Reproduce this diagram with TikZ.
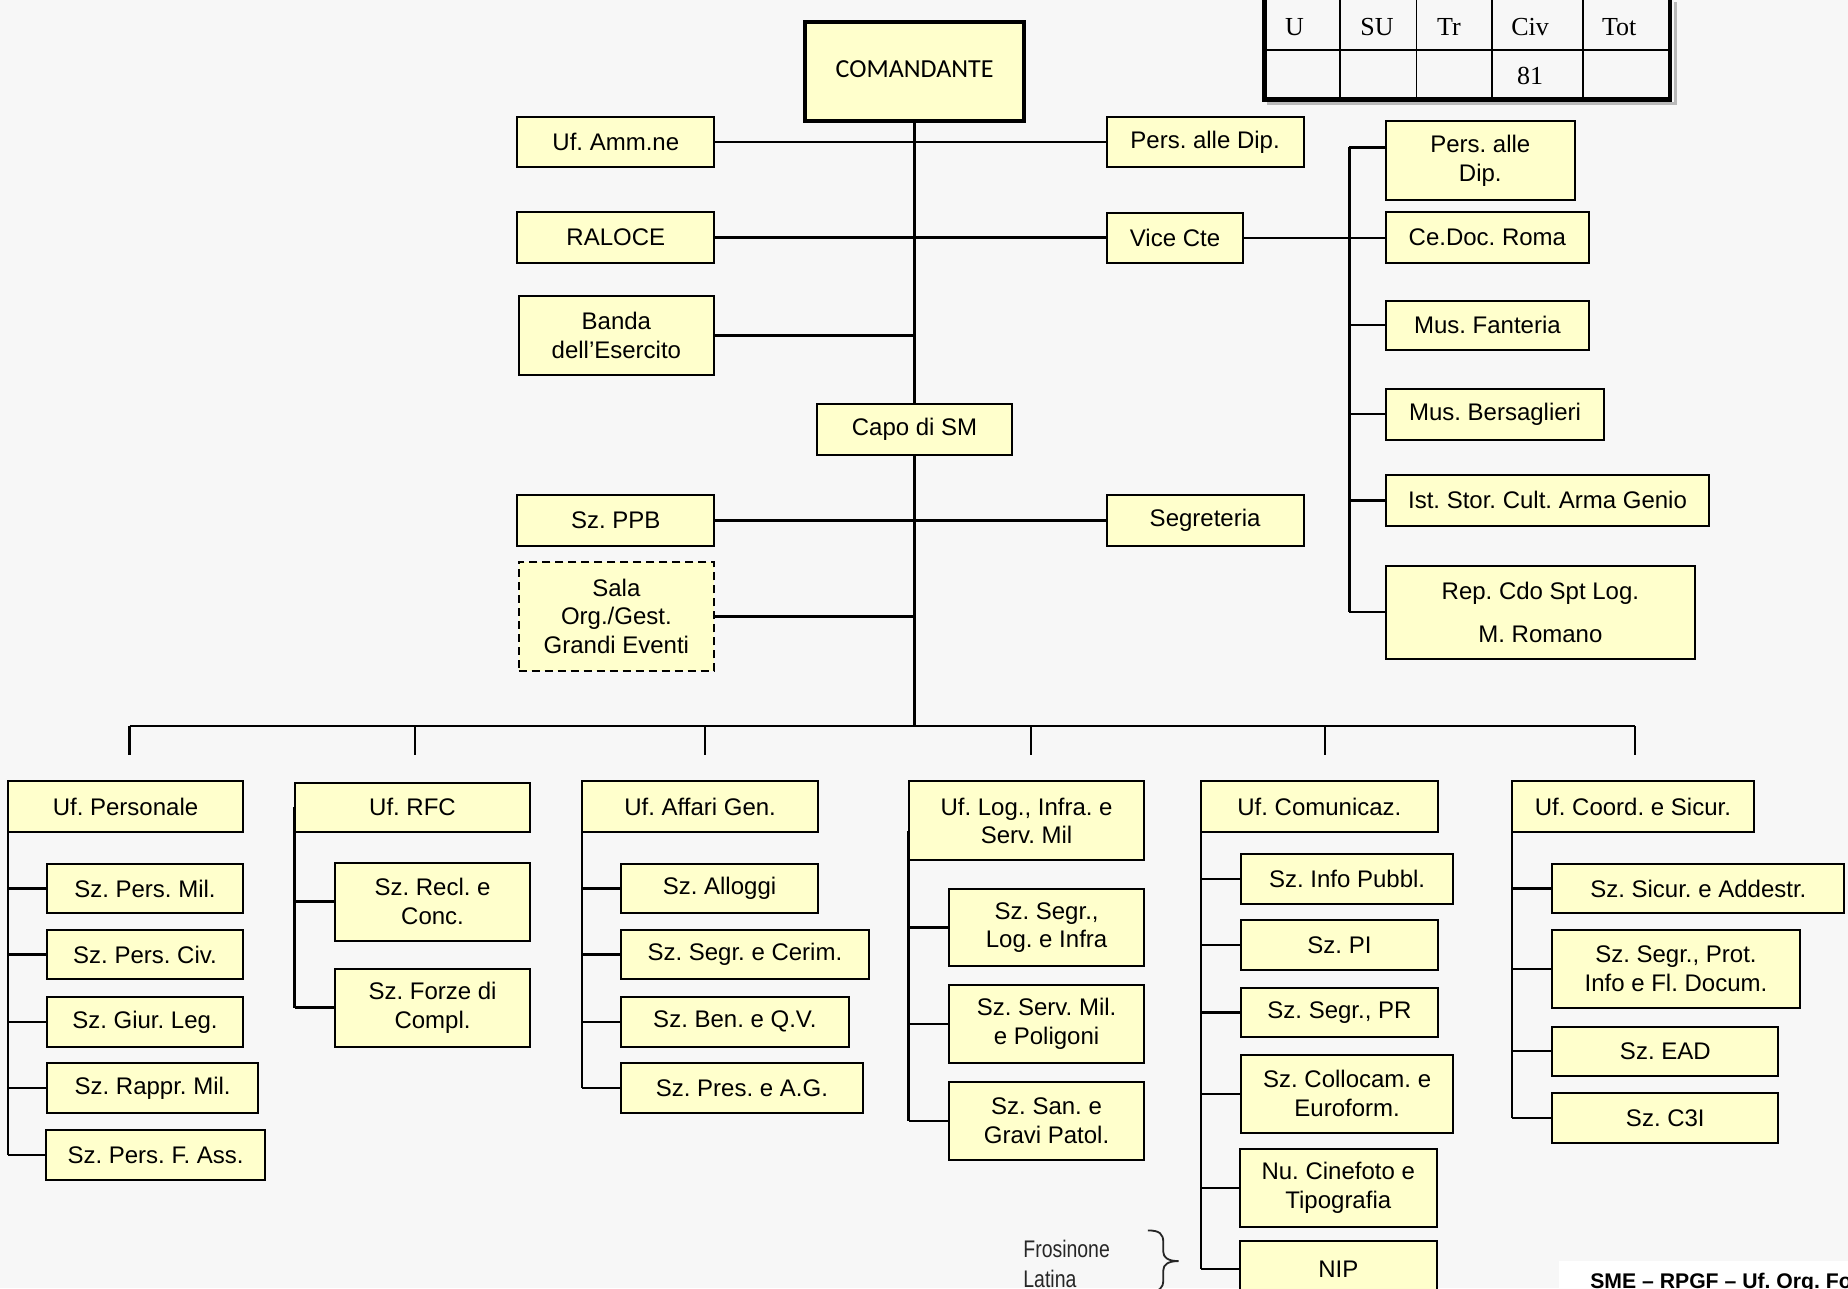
\documentclass[tikz,border=0pt]{standalone}
\usepackage{fontspec}
\setmainfont{Liberation Sans}
\newfontfamily\calib{Carlito}
\newfontfamily\tms{Liberation Serif}
\usetikzlibrary{calc}
\definecolor{bgc}{HTML}{F7F7F7}
\definecolor{boxc}{HTML}{FFFFCC}
\frenchspacing
\tikzset{
  orgbox/.style={draw=black, fill=boxc, line width=1pt, inner sep=2pt, align=center,
    font=\frenchspacing\fontsize{12}{14.4}\selectfont, outer sep=0pt},
  dashbox/.style={dash pattern=on 4pt off 2.5pt},
  cmdbox/.style={line width=2pt, font=\calib\fontsize{13}{15}\selectfont},
  link/.style={line width=1.2pt, draw=black},
  tabtxt/.style={anchor=base west, font=\tms\fontsize{13}{15}\selectfont, inner sep=0pt},
  narrowtxt/.style={anchor=base west, inner sep=0pt, text=black!85, font=\fontsize{12}{14}\selectfont},
  foottxt/.style={anchor=base west, inner sep=0pt, font=\frenchspacing\bfseries\fontsize{10.6}{12}\selectfont},
}
\newcommand{\orgbox}[7][]{%
  \pgfmathsetmacro{\obw}{(#5-#3)*0.5893}%
  \pgfmathsetmacro{\obh}{(#6-#4)*0.5893}%
  \node[orgbox,#1,minimum width=\obw pt,minimum height=\obh pt] (#2) at ({(#3+#5)/2},{(#4+#6)/2}) {#7};%
}
\begin{document}
\frenchspacing
\begin{tikzpicture}[x=0.5893pt,y=-0.5893pt]
\useasboundingbox (0,0) rectangle (1568,1093);
\fill[bgc] (0,0) rectangle (1568,1093);
\clip (0,0) rectangle (1568,1093);

% ---- table (top right)
\draw[gray!55, line width=1.5pt] (1075,87.5) -- (1422,87.5) -- (1422,2);
\draw[line width=0.8pt] (1137,-5) -- (1137,84) (1202,-5) -- (1202,84)
  (1266,-5) -- (1266,84) (1343,-5) -- (1343,84) (1073,42.4) -- (1417,42.4);
\draw[line width=2.2pt] (1073,-5) -- (1073,84.5) -- (1417,84.5) -- (1417,-5);
\node[tabtxt] (tu) at (1090,29.7) {U};
\node[tabtxt] (tsu) at (1154,29.7) {SU};
\node[tabtxt] (ttr) at (1219,29.7) {Tr};
\node[tabtxt] (tciv) at (1282,29.7) {Civ};
\node[tabtxt] (ttot) at (1359,29.7) {Tot};
\node[tabtxt] (tn) at (1287,72) {81};

% ---- top part
\orgbox[cmdbox]{com}{683}{19}{869}{103}{\raisebox{3pt}{COMANDANTE}}
\orgbox{amm}{439}{99}{606}{142}{Uf. Amm.ne}
\orgbox{pad}{939}{99}{1106}{142}{Pers. alle Dip.}
\orgbox{ral}{439}{180}{606}{223}{RALOCE}
\orgbox{vice}{939}{181}{1055}{223}{Vice Cte}
\orgbox{banda}{440}{251}{606}{318}{Banda\\dell’Esercito}
\orgbox{capo}{693}{343}{859}{386}{Capo di SM}
\orgbox{ppb}{439}{420}{606}{463}{Sz. PPB}
\orgbox{segr}{939}{420}{1106}{463}{Segreteria}
\orgbox[dashbox]{sala}{440}{477}{606}{569}{Sala\\Org./Gest.\\Grandi Eventi}

\orgbox{padb}{1176}{103}{1336}{170}{Pers. alle\\Dip.}
\orgbox{cedoc}{1176}{180}{1348}{223}{Ce.Doc. Roma}
\orgbox{musf}{1176}{255}{1348}{297}{Mus. Fanteria}
\orgbox{musb}{1176}{330}{1361}{373}{Mus. Bersaglieri}
\orgbox{ist}{1176}{403}{1450}{446}{Ist. Stor. Cult. Arma Genio}
\orgbox{rep}{1176}{480}{1438}{559}{Rep. Cdo Spt Log.\\[7pt]M. Romano}

\coordinate (busl) at (110,616);
\coordinate (busc) at (776,616);
\coordinate (busr) at (1387,616);
\coordinate (rvt) at (1145,125);

\draw[link] (com.south) -- (capo.north);
\draw[link] (capo.south) -- (busc);
\draw[link] (amm.east) -- (pad.west);
\draw[link] (ral.east) -- (ral.east -| vice.west);
\draw[link] (banda.east) -- (banda.east -| com.south);
\draw[link] (ppb.east) -- (segr.west);
\draw[link] (sala.east) -- (sala.east -| capo.south);
\draw[link] (vice.east) -- (vice.east -| cedoc.west);
\draw[link] (rvt) -- (rvt |- rep.west);
\draw[link] (rvt) -- (rvt -| padb.west);
\foreach \n in {musf,musb,ist,rep} \draw[link] (\n.west) -- (\n.west -| rvt);

% ---- bus
\draw[link] (busl) -- (busr);
\foreach \x [count=\i] in {110,352,598,875,1124,1387} {
  \coordinate (dt\i) at (\x,616);
  \coordinate (db\i) at (\x,641);
  \draw[link] (dt\i) -- (db\i);
}

% ---- column 1
\orgbox{ufp}{7}{663}{206}{706}{Uf. Personale}
\orgbox{p1}{40}{733}{206}{775}{Sz. Pers. Mil.}
\orgbox{p2}{40}{789}{206}{831}{Sz. Pers. Civ.}
\orgbox{p3}{40}{846}{206}{888}{Sz. Giur. Leg.}
\orgbox{p4}{40}{902}{219}{944}{Sz. Rappr. Mil.}
\orgbox{p5}{39}{959}{225}{1001}{Sz. Pers. F. Ass.}
\draw[link] (ufp.west) -- (ufp.west |- p5.west);
\foreach \n in {p1,p2,p3,p4,p5} \draw[link] (\n.west) -- (\n.west -| ufp.west);

% ---- column 2
\orgbox{ufr}{250}{664}{450}{706}{Uf. RFC}
\orgbox{r1}{284}{732}{450}{798}{Sz. Recl. e\\Conc.}
\orgbox{r2}{284}{822}{450}{888}{Sz. Forze di\\Compl.}
\draw[link] (ufr.west) -- (ufr.west |- r2.west);
\foreach \n in {r1,r2} \draw[link] (\n.west) -- (\n.west -| ufr.west);

% ---- column 3
\orgbox{ufa}{494}{663}{694}{706}{Uf. Affari Gen.}
\orgbox{a1}{527}{733}{694}{775}{Sz. Alloggi}
\orgbox{a2}{527}{789}{737}{831}{Sz. Segr. e Cerim.}
\orgbox{a3}{527}{846}{720}{888}{Sz. Ben. e Q.V.}
\orgbox{a4}{527}{902}{732}{944}{Sz. Pres. e A.G.}
\draw[link] (ufa.west) -- (ufa.west |- a4.west);
\foreach \n in {a1,a2,a3,a4} \draw[link] (\n.west) -- (\n.west -| ufa.west);

% ---- column 4
\orgbox{ufl}{771}{663}{971}{730}{Uf. Log., Infra. e\\Serv. Mil}
\orgbox{l1}{805}{754}{971}{820}{Sz. Segr.,\\Log. e Infra}
\orgbox{l2}{805}{836}{971}{902}{Sz. Serv. Mil.\\e Poligoni}
\orgbox{l3}{805}{918}{971}{984}{Sz. San. e\\Gravi Patol.}
\coordinate (lv) at (771,705);
\draw[link] (lv) -- (lv |- l3.west);
\foreach \n in {l1,l2,l3} \draw[link] (\n.west) -- (\n.west -| lv);

% ---- column 5
\orgbox{ufc}{1019}{663}{1220}{706}{Uf. Comunicaz.}
\orgbox{c1}{1053}{725}{1233}{767}{Sz. Info Pubbl.}
\orgbox{c2}{1053}{781}{1220}{823}{Sz. PI}
\orgbox{c3}{1053}{838}{1220}{880}{Sz. Segr., PR}
\orgbox{c4}{1053}{895}{1233}{961}{Sz. Collocam. e\\Euroform.}
\orgbox{c5}{1052}{975}{1219}{1041}{Nu. Cinefoto e\\Tipografia}
\orgbox{c6}{1052}{1053}{1219}{1100}{NIP}
\draw[link] (ufc.west) -- (ufc.west |- c6.west);
\foreach \n in {c1,c2,c3,c4,c5,c6} \draw[link] (\n.west) -- (\n.west -| ufc.west);

% ---- column 6
\orgbox{ufs}{1283}{663}{1488}{706}{Uf. Coord. e Sicur.}
\orgbox{s1}{1317}{733}{1565}{775}{Sz. Sicur. e Addestr.}
\orgbox{s2}{1317}{789}{1527}{855}{Sz. Segr., Prot.\\Info e Fl. Docum.}
\orgbox{s3}{1317}{871}{1509}{913}{Sz. EAD}
\orgbox{s4}{1317}{927}{1509}{970}{Sz. C3I}
\draw[link] (ufs.west) -- (ufs.west |- s4.west);
\foreach \n in {s1,s2,s3,s4} \draw[link] (\n.west) -- (\n.west -| ufs.west);

% ---- bottom notes
\node[narrowtxt] (fros) at (868,1067) {\scalebox{0.81}[1]{Frosinone}};
\node[narrowtxt] (lat) at (868,1092) {\scalebox{0.81}[1]{Latina}};
\draw[line width=0.9pt, black!85] (974,1044) .. controls (984,1044) and (987,1047) .. (987,1054)
  -- (987,1062) .. controls (987,1067) and (991,1070) .. (1000,1070)
  .. controls (991,1070) and (987,1073) .. (987,1078)
  -- (987,1086) .. controls (987,1093) and (984,1096) .. (974,1096);
\fill[white] (1323,1070) rectangle (1568,1093);
\node[foottxt] (foot) at (1349,1093.5) {SME – RPGF – Uf. Org. Fo};
\end{tikzpicture}
\end{document}
